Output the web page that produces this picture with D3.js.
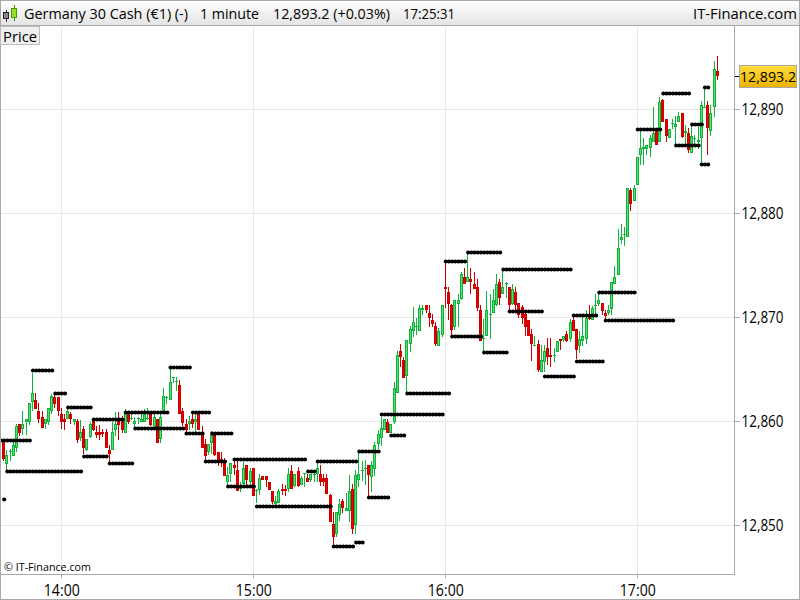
<!DOCTYPE html>
<html><head><meta charset="utf-8">
<script src="https://cdn.jsdelivr.net/npm/d3@7/dist/d3.min.js"></script>
<style>html,body{margin:0;padding:0;background:#fff;overflow:hidden}svg{display:block}text{font-family:"Open Sans",sans-serif}</style>
</head><body><svg id="c" width="800" height="600"></svg>
<script>
const firstMinute = -18; // minutes relative to 14:00
const opens = [
12858.0,12855.9,12857.0,12856.7,12857.4,12859.7,12859.3,12859.9,12859.9,12861.9,
12862.0,12861.0,12860.4,12859.7,12859.9,12861.0,12862.3,12862.3,12860.7,12860.2,
12860.2,12860.7,12859.9,12860.0,12858.4,12859.3,12857.2,12858.5,12860.0,12859.0,
12859.0,12859.0,12859.0,12857.2,12857.2,12859.2,12860.0,12860.0,12858.9,12860.8,
12860.2,12859.7,12860.2,12859.9,12859.9,12860.2,12860.7,12859.4,12860.2,12858.3,
12860.7,12862.2,12862.0,12864.2,12863.8,12863.5,12861.0,12859.7,12859.7,12860.2,
12859.9,12860.8,12858.8,12857.8,12857.0,12857.9,12858.7,12857.0,12856.4,12856.2,
12854.2,12854.9,12855.8,12855.3,12853.5,12854.0,12855.8,12854.2,12855.5,12853.3,
12853.4,12854.7,12854.7,12854.2,12853.3,12852.0,12852.1,12853.5,12853.5,12853.5,
12855.2,12853.8,12855.2,12853.9,12854.9,12854.5,12854.4,12854.8,12854.9,12854.9,
12854.5,12854.5,12852.9,12850.1,12849.2,12851.0,12852.3,12851.4,12851.4,12853.5,
12850.0,12854.4,12855.2,12855.4,12855.8,12854.6,12855.4,12857.8,12858.4,12859.2,
12859.9,12858.9,12859.9,12862.7,12866.8,12865.9,12864.4,12867.4,12868.7,12869.1,
12868.7,12870.7,12871.2,12870.4,12869.7,12869.2,12867.2,12868.3,12872.9,12872.4,
12871.2,12869.1,12871.3,12871.8,12873.9,12873.4,12873.7,12873.2,12872.9,12870.7,
12867.9,12868.2,12870.2,12870.4,12871.2,12873.4,12872.2,12873.2,12872.9,12871.3,
12872.4,12871.4,12871.0,12870.3,12869.7,12868.4,12867.2,12867.4,12864.7,12865.7,
12867.0,12866.4,12866.3,12866.7,12867.9,12867.8,12868.4,12867.9,12869.7,12868.9,
12867.2,12867.7,12867.9,12870.1,12869.7,12871.1,12871.3,12871.4,12870.4,12870.4,
12870.8,12873.2,12874.1,12877.4,12877.9,12877.7,12882.2,12881.2,12882.7,12885.6,
12886.2,12886.2,12886.3,12886.9,12887.9,12886.9,12890.9,12889.1,12887.2,12888.6,
12888.3,12888.8,12889.6,12887.7,12887.7,12885.8,12887.1,12886.9,12887.2,12890.1,
12890.4,12887.9,12890.2,12893.7];
const closes = [
12856.4,12856.8,12857.1,12857.7,12859.5,12858.9,12859.7,12860.2,12861.8,12862.7,
12861.2,12860.2,12859.4,12860.2,12861.3,12862.4,12861.7,12861.0,12859.9,12859.9,
12861.0,12860.2,12860.2,12858.2,12859.0,12857.4,12858.3,12859.7,12859.2,12858.7,
12858.7,12858.8,12857.4,12856.9,12859.0,12859.7,12859.6,12859.2,12860.9,12859.9,
12860.3,12860.0,12860.3,12860.2,12860.9,12860.3,12859.6,12860.4,12857.9,12860.4,
12862.4,12862.3,12863.8,12864.3,12863.9,12860.7,12859.8,12859.2,12860.0,12859.7,
12860.2,12859.2,12857.4,12856.7,12857.8,12858.7,12856.8,12856.1,12856.0,12854.7,
12854.8,12856.0,12855.5,12853.3,12853.6,12855.5,12854.4,12855.2,12852.8,12853.4,
12854.5,12854.4,12854.4,12853.4,12852.2,12852.3,12853.3,12853.3,12853.3,12854.9,
12853.5,12854.9,12853.8,12854.5,12855.0,12854.2,12854.9,12854.9,12855.5,12854.2,
12854.2,12853.0,12850.3,12848.9,12851.3,12852.0,12851.7,12851.7,12853.3,12849.6,
12854.8,12854.9,12855.3,12855.5,12854.8,12855.8,12857.7,12858.8,12859.4,12860.2,
12858.9,12859.7,12863.2,12866.4,12866.2,12864.2,12867.8,12868.9,12869.5,12869.2,
12870.9,12870.9,12870.7,12869.9,12869.4,12867.4,12868.7,12871.2,12872.7,12871.3,
12868.8,12871.7,12871.7,12874.2,12873.2,12873.9,12873.4,12872.7,12870.9,12867.7,
12868.0,12870.7,12870.3,12871.7,12873.2,12871.9,12872.9,12873.3,12871.2,12872.7,
12871.2,12870.2,12869.9,12869.1,12868.2,12867.4,12867.3,12864.9,12865.9,12866.8,
12866.2,12866.2,12866.4,12867.7,12867.7,12868.2,12867.7,12869.5,12868.7,12866.9,
12867.9,12868.2,12869.9,12869.8,12870.9,12871.2,12871.7,12870.6,12870.1,12870.7,
12873.4,12873.9,12876.7,12877.7,12878.0,12882.4,12880.9,12882.4,12885.4,12886.3,
12886.4,12886.6,12887.2,12887.7,12886.6,12890.7,12888.8,12887.4,12888.1,12888.7,
12888.6,12889.4,12887.3,12887.9,12886.1,12887.4,12887.2,12887.0,12890.4,12890.2,
12888.2,12889.6,12893.9,12893.2];
const highs = [
12858.0,12857.2,12857.3,12858.0,12859.7,12859.7,12861.0,12860.2,12861.8,12864.6,
12862.7,12861.8,12861.0,12860.2,12861.3,12862.6,12862.5,12862.3,12861.3,12860.7,
12861.3,12860.9,12860.2,12860.2,12860.1,12859.5,12858.3,12859.9,12860.2,12859.5,
12859.6,12859.3,12859.3,12857.7,12859.9,12860.9,12860.9,12860.5,12861.2,12861.0,
12860.7,12860.4,12860.4,12860.8,12861.2,12861.3,12860.9,12860.7,12860.2,12860.7,
12863.2,12862.4,12865.1,12864.3,12864.3,12864.0,12861.3,12860.2,12860.5,12860.9,
12860.9,12861.0,12859.5,12858.3,12857.8,12859.1,12858.9,12857.0,12857.0,12856.5,
12855.6,12856.0,12856.3,12856.3,12854.2,12856.1,12855.8,12855.5,12855.5,12853.5,
12854.9,12854.7,12854.7,12854.2,12853.3,12852.8,12853.5,12854.0,12853.9,12855.5,
12855.8,12854.9,12855.6,12854.7,12855.0,12854.9,12854.9,12855.3,12856.1,12855.8,
12854.9,12854.9,12853.0,12851.3,12851.3,12852.5,12852.5,12853.1,12854.8,12854.0,
12855.3,12857.2,12856.2,12856.3,12855.8,12856.2,12858.0,12859.2,12860.4,12860.2,
12860.2,12859.7,12863.8,12866.8,12867.4,12866.2,12867.8,12869.2,12871.0,12869.9,
12871.2,12871.2,12871.2,12871.2,12870.3,12869.5,12869.0,12871.2,12875.3,12872.9,
12871.3,12871.7,12872.2,12874.4,12874.7,12876.2,12874.7,12874.4,12873.7,12871.2,
12869.8,12872.5,12872.2,12872.7,12874.2,12873.7,12874.5,12873.4,12872.9,12873.2,
12872.9,12871.4,12871.2,12870.5,12869.7,12868.9,12868.2,12867.8,12867.3,12867.3,
12868.0,12868.0,12867.0,12867.7,12867.9,12868.2,12868.7,12869.8,12870.1,12868.9,
12868.7,12870.2,12870.7,12871.2,12871.1,12872.2,12872.2,12871.4,12870.7,12871.2,
12873.4,12874.9,12878.5,12879.0,12878.7,12882.4,12882.4,12882.7,12885.4,12888.0,
12887.2,12886.6,12887.5,12890.2,12888.1,12891.2,12891.0,12889.1,12888.1,12889.1,
12889.4,12889.7,12889.6,12888.5,12888.2,12888.6,12887.5,12888.3,12890.8,12892.0,
12890.8,12890.4,12894.6,12895.1];
const lows = [
12856.2,12855.3,12856.2,12856.7,12857.0,12858.6,12858.7,12858.7,12859.6,12861.0,
12861.2,12859.8,12859.4,12859.3,12859.6,12860.7,12861.3,12860.5,12859.3,12859.2,
12860.2,12859.7,12859.6,12857.9,12858.1,12856.9,12857.1,12858.4,12859.1,12858.4,
12858.2,12858.5,12857.4,12856.1,12857.2,12858.6,12858.2,12858.9,12858.9,12859.7,
12860.1,12859.4,12859.7,12859.9,12859.9,12860.1,12859.5,12859.2,12857.9,12857.9,
12860.7,12861.7,12862.0,12863.7,12862.9,12860.7,12859.5,12858.9,12859.2,12859.4,
12858.9,12859.2,12857.4,12856.3,12856.8,12856.9,12856.7,12855.7,12855.6,12854.7,
12853.8,12854.2,12854.8,12853.3,12853.2,12853.9,12853.9,12853.7,12852.8,12852.1,
12852.9,12854.4,12853.7,12853.4,12852.0,12851.9,12852.1,12852.9,12852.8,12853.2,
12853.5,12853.7,12853.7,12853.9,12853.7,12854.2,12854.2,12854.2,12854.2,12853.8,
12853.8,12853.0,12850.3,12848.0,12848.9,12850.4,12851.2,12851.4,12850.3,12849.2,
12849.2,12853.7,12854.3,12853.9,12852.8,12853.2,12854.7,12857.3,12857.6,12859.2,
12858.9,12858.9,12859.7,12862.7,12865.2,12864.2,12862.7,12866.7,12868.1,12868.3,
12868.7,12870.2,12870.4,12869.1,12869.1,12867.2,12867.2,12868.1,12870.9,12869.7,
12868.2,12868.8,12869.1,12871.7,12873.2,12873.4,12872.2,12872.7,12870.6,12867.7,
12866.7,12868.2,12867.9,12870.4,12871.1,12871.2,12872.2,12871.9,12870.7,12871.2,
12870.7,12869.9,12869.4,12868.2,12868.2,12865.8,12867.2,12864.7,12864.7,12864.7,
12865.4,12865.2,12865.7,12866.7,12866.9,12867.6,12867.6,12867.6,12868.7,12866.0,
12866.6,12867.2,12867.4,12869.7,12869.7,12870.2,12871.1,12870.2,12869.8,12870.2,
12870.2,12873.2,12874.1,12877.0,12876.9,12877.7,12880.2,12881.2,12882.7,12884.6,
12884.6,12885.6,12885.4,12886.9,12886.6,12886.9,12888.8,12886.9,12887.2,12888.1,
12886.7,12888.8,12887.2,12886.7,12885.8,12885.8,12886.4,12886.2,12884.6,12890.1,
12885.6,12887.4,12889.3,12892.8];

// dotted support / resistance levels: first minute, last minute, price
const levelStart = [-19,-17,-9,-2,2,10,7,15,20,23,34,-18,39,41,47,45,54,52,61,77,80,85,92,93,96,100,103,108,120,127,122,132,138,140,151,161,160,168,170,180,188,192,197,200,201];
const levelEnd   = [-10,6,-3,1,9,19,14,22,33,38,40,-18,44,46,53,51,76,60,84,79,92,91,94,99,102,119,107,121,126,137,131,139,159,150,160,169,167,179,191,187,196,199,200,202,202];
const levelPrice = [12858.2,12855.2,12864.9,12862.7,12861.4,12860.2,12856.7,12856.0,12860.9,12859.4,12865.2,12852.5,12858.9,12860.9,12858.9,12856.2,12856.4,12853.8,12851.9,12855.2,12856.2,12848.0,12848.4,12857.1,12852.7,12860.7,12858.7,12862.7,12875.4,12876.3,12868.2,12866.7,12874.6,12870.6,12864.4,12865.8,12870.2,12872.4,12869.7,12888.1,12891.6,12886.6,12888.6,12884.7,12892.1];

const priceTicks = [12850,12860,12870,12880,12890];
const timeTicks = [0,60,120,180];
const timeLabels = ["14:00","15:00","16:00","17:00"];
const lastPrice = 12893.2;
const headerLeft = ["Germany 30 Cash (€1) (-)","1 minute","12,893.2 (+0.03%)","17:25:31"];
const headerX = [24,200,273,403];
const headerWidth = [164,59,117,52];

const svg = d3.select("#c");
const W = 800, H = 600, plotR = 734, plotT = 26, plotB = 574;
const x = d3.scaleLinear().domain([0,180]).range([61.3,637.3]);
const y = d3.scaleLinear().domain([12850,12890]).range([525.3,109.3]);
const GRID = "#e8e8e8", AX = "#a9a9a9", GREEN = "#0fb33c", LIGHT = "#57dd74", RED = "#c90000", RFILL = "#ee0000";
const cr = v => Math.round(v);

const defs = svg.append("defs");
const hg = defs.append("linearGradient").attr("id","hg").attr("x1",0).attr("x2",0).attr("y1",0).attr("y2",1);
hg.append("stop").attr("offset",0).attr("stop-color","#ffffff");
hg.append("stop").attr("offset",1).attr("stop-color","#e4e4e4");
const gg = defs.append("linearGradient").attr("id","gg").attr("x1",0).attr("x2",0).attr("y1",0).attr("y2",1);
gg.append("stop").attr("offset",0).attr("stop-color","#ffdd3c");
gg.append("stop").attr("offset",1).attr("stop-color","#edb200");
defs.append("clipPath").attr("id","plot").append("rect").attr("x",1).attr("y",plotT).attr("width",plotR-1).attr("height",plotB-plotT);

svg.append("rect").attr("width",W).attr("height",H).attr("fill","#fff");

const yAxis = d3.axisRight(y).tickValues(priceTicks).tickFormat(d3.format(",")).tickSize(5).tickPadding(2);
const xAxis = d3.axisBottom(x).tickValues(timeTicks).tickFormat((d,i)=>timeLabels[i]).tickSize(4).tickPadding(7);
const grid = svg.append("g").attr("shape-rendering","crispEdges").attr("stroke",GRID);
grid.selectAll(".h").data(priceTicks).join("line").attr("x1",1).attr("x2",plotR).attr("y1",d=>cr(y(d))+.5).attr("y2",d=>cr(y(d))+.5);
grid.selectAll(".v").data(timeTicks).join("line").attr("y1",plotT).attr("y2",plotB).attr("x1",d=>cr(x(d))+.5).attr("x2",d=>cr(x(d))+.5);

const ya = svg.append("g").attr("transform",`translate(${plotR+.5},0)`).call(yAxis);
ya.select(".domain").remove();
ya.selectAll("line").attr("stroke",AX).attr("shape-rendering","crispEdges");
ya.selectAll("text").attr("font-size",15.5).attr("fill","#000").attr("textLength",42).attr("lengthAdjust","spacingAndGlyphs");
const xa = svg.append("g").attr("transform",`translate(0,${plotB})`).call(xAxis);
xa.select(".domain").remove();
xa.selectAll("line").attr("stroke",AX).attr("shape-rendering","crispEdges");
xa.selectAll("text").attr("font-size",15.5).attr("fill","#000").attr("textLength",36).attr("lengthAdjust","spacingAndGlyphs");

const bars = d3.range(opens.length).map(i=>({m:firstMinute+i,o:opens[i],c:closes[i],h:highs[i],l:lows[i]}));
const plot = svg.append("g").attr("clip-path","url(#plot)");
const cg = plot.append("g").attr("shape-rendering","crispEdges");
const g = cg.selectAll("g").data(bars).join("g");
g.append("rect").attr("x",d=>Math.floor(x(d.m))).attr("width",1)
  .attr("y",d=>cr(y(d.h))).attr("height",d=>Math.max(1,cr(y(d.l))-cr(y(d.h))))
  .attr("fill",d=>d.c>=d.o?GREEN:RED);
g.append("rect").attr("x",d=>Math.floor(x(d.m))-1).attr("width",3)
  .attr("y",d=>cr(y(Math.max(d.o,d.c)))).attr("height",d=>Math.max(1,cr(y(Math.min(d.o,d.c)))-cr(y(Math.max(d.o,d.c)))))
  .attr("fill",d=>d.c>=d.o?GREEN:RED);
g.filter(d=>cr(y(Math.min(d.o,d.c)))-cr(y(Math.max(d.o,d.c)))>2).append("rect")
  .attr("x",d=>Math.floor(x(d.m))).attr("width",1)
  .attr("y",d=>cr(y(Math.max(d.o,d.c)))+1).attr("height",d=>cr(y(Math.min(d.o,d.c)))-cr(y(Math.max(d.o,d.c)))-2)
  .attr("fill",d=>d.c>=d.o?LIGHT:RFILL);

const dots = levelPrice.flatMap((p,i)=>d3.range(levelStart[i],levelEnd[i]+1).map(m=>({m,p})));
plot.append("g").selectAll("circle").data(dots).join("circle")
  .attr("cx",d=>x(d.m)+.5).attr("cy",d=>cr(y(d.p))+.5).attr("r",2.1).attr("fill","#000");

const fr = svg.append("g").attr("shape-rendering","crispEdges");
fr.append("rect").attr("x",0).attr("y",0).attr("width",W).attr("height",25).attr("fill","url(#hg)");
[[0,0.5,W,0.5],[0,25.5,W,25.5],[0.5,0,0.5,H],[plotR+.5,25,plotR+.5,plotB],[0,plotB+.5,plotR+1,plotB+.5],[0,H-.5,W,H-.5],[W-.5,0,W-.5,H]].forEach(l=>
  fr.append("line").attr("x1",l[0]).attr("y1",l[1]).attr("x2",l[2]).attr("y2",l[3]).attr("stroke",AX));

const ic = svg.append("g").attr("shape-rendering","crispEdges");
ic.append("rect").attr("x",5.5).attr("y",10).attr("width",1).attr("height",12).attr("fill","#333");
ic.append("rect").attr("x",3.5).attr("y",12.5).attr("width",5).attr("height",6).attr("fill","#888").attr("stroke","#222");
ic.append("rect").attr("x",14).attr("y",5).attr("width",1).attr("height",16).attr("fill","#2f8f00");
ic.append("rect").attr("x",11.5).attr("y",8.5).attr("width",5).attr("height",9).attr("fill","#9bdc26").attr("stroke","#3f9a00");

svg.selectAll(".ht").data(headerLeft).join("text").attr("x",(d,i)=>headerX[i]).attr("y",19).attr("font-size",14.8).attr("fill","#000").attr("textLength",(d,i)=>headerWidth[i]).attr("lengthAdjust","spacingAndGlyphs").text(d=>d);
svg.append("text").attr("x",797).attr("y",19).attr("text-anchor","end").attr("font-size",15).attr("fill","#000").attr("textLength",104).attr("lengthAdjust","spacingAndGlyphs").text("IT-Finance.com");

svg.append("rect").attr("x",.5).attr("y",26.5).attr("width",39).attr("height",18).attr("fill","#efefef").attr("stroke","#bdbdbd").attr("shape-rendering","crispEdges");
svg.append("text").attr("x",3).attr("y",41.5).attr("font-size",15).attr("fill","#000").attr("textLength",34).attr("lengthAdjust","spacingAndGlyphs").text("Price");

svg.append("text").attr("x",4).attr("y",571).attr("font-size",11).attr("fill","#000").attr("textLength",87).attr("lengthAdjust","spacingAndGlyphs").text("© IT-Finance.com");

const ly = cr(y(lastPrice));
svg.append("line").attr("x1",plotR+1).attr("x2",plotR+5).attr("y1",ly+.5).attr("y2",ly+.5).attr("stroke","#000").attr("shape-rendering","crispEdges");
svg.append("rect").attr("x",739.5).attr("y",ly-10.5).attr("width",57).attr("height",22).attr("fill","url(#gg)").attr("stroke","#a8a8a8").attr("shape-rendering","crispEdges");
svg.append("text").attr("x",768).attr("y",ly+6).attr("text-anchor","middle").attr("font-size",14.2).attr("fill","#000").text(d3.format(",.1f")(lastPrice));
</script></body></html>
